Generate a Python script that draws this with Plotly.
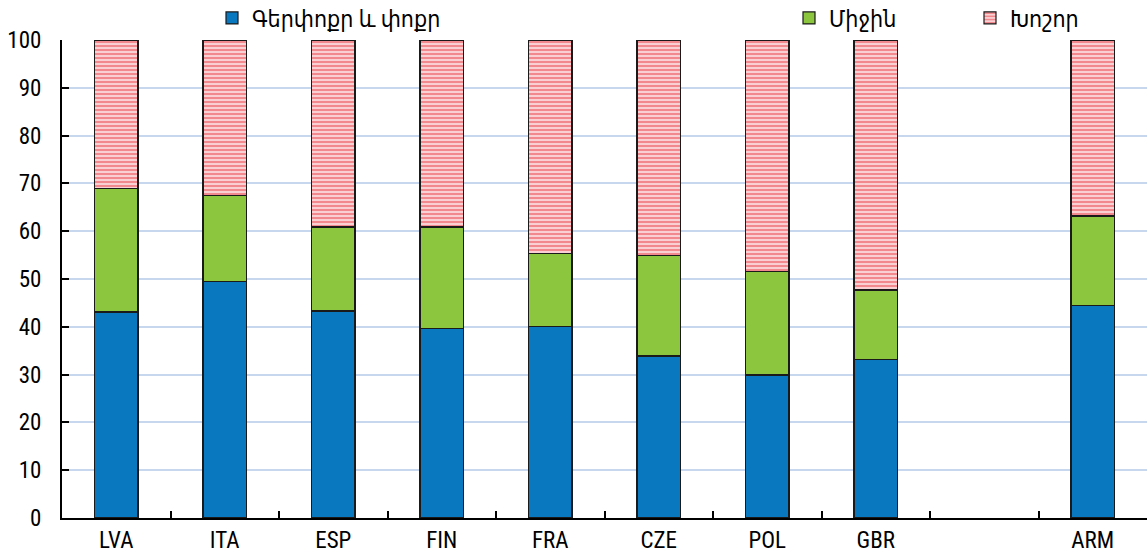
import plotly.graph_objects as go

categories = ["LVA", "ITA", "ESP", "FIN", "FRA", "CZE", "POL", "GBR", " ", "ARM"]
small = [43.1, 49.4, 43.3, 39.7, 40.0, 33.9, 29.9, 33.1, None, 44.4]
medium = [25.9, 18.0, 17.6, 21.2, 15.4, 21.1, 21.6, 14.6, None, 18.8]
large = [31.0, 32.6, 39.1, 39.1, 44.6, 45.0, 48.5, 52.3, None, 36.8]
names = ["Գերփոքր և փոքր", "Միջին", "Խոշոր"]

FONT = "Roboto Condensed, DejaVu Sans Condensed, Liberation Sans, sans-serif"
line = dict(color="#1a1a1a", width=1.2)

fig = go.Figure()
fig.add_bar(x=categories, y=small, name=names[0], marker=dict(color="#0a78bf", line=line),
            legend="legend")
fig.add_bar(x=categories, y=medium, name=names[1], marker=dict(color="#8cc63f", line=line),
            legend="legend2")
fig.add_bar(x=categories, y=large, name=names[2],
            marker=dict(color="white", line=line,
                        pattern=dict(shape="-", fgcolor="#e3141f", bgcolor="white",
                                     size=4, solidity=0.7, fillmode="overlay")),
            legend="legend3")

legend_common = dict(orientation="h", yref="container", xref="container", y=1 - 18 / 553, yanchor="middle",
                     font=dict(family=FONT, size=23, color="#000"), bgcolor="rgba(0,0,0,0)",
                     borderwidth=0, visible=True)
fig.update_layout(
    barmode="stack",
    bargap=0.6,
    showlegend=True,
    width=1147, height=553,
    margin=dict(l=62, r=0, t=40, b=35, autoexpand=False),
    plot_bgcolor="white", paper_bgcolor="white",
    font=dict(family=FONT, size=23, color="#000"),
    legend=dict(legend_common, x=(252 - 40) / 1147),
    legend2=dict(legend_common, x=(829 - 40) / 1147),
    legend3=dict(legend_common, x=(1010 - 40) / 1147),
    xaxis=dict(type="category", categoryorder="array", categoryarray=categories,
               tickson="boundaries", ticks="inside", ticklen=7, tickcolor="#000", tickwidth=1.5,
               showline=True, linecolor="#000", linewidth=2, showgrid=False,
               tickfont=dict(family=FONT, size=23, color="#000")),
    yaxis=dict(range=[0, 100], dtick=10, ticks="inside", ticklen=7, tickcolor="#000", tickwidth=1.5,
               showline=True, linecolor="#000", linewidth=2,
               showgrid=True, gridcolor="#c7d8ee", gridwidth=1.5,
               zeroline=False, ticklabelstandoff=14,
               tickfont=dict(family=FONT, size=23, color="#000")),
)
fig.write_html("out.html", config={"displayModeBar": False},
               post_script="document.body.style.margin='0';document.body.style.overflow='hidden';")
